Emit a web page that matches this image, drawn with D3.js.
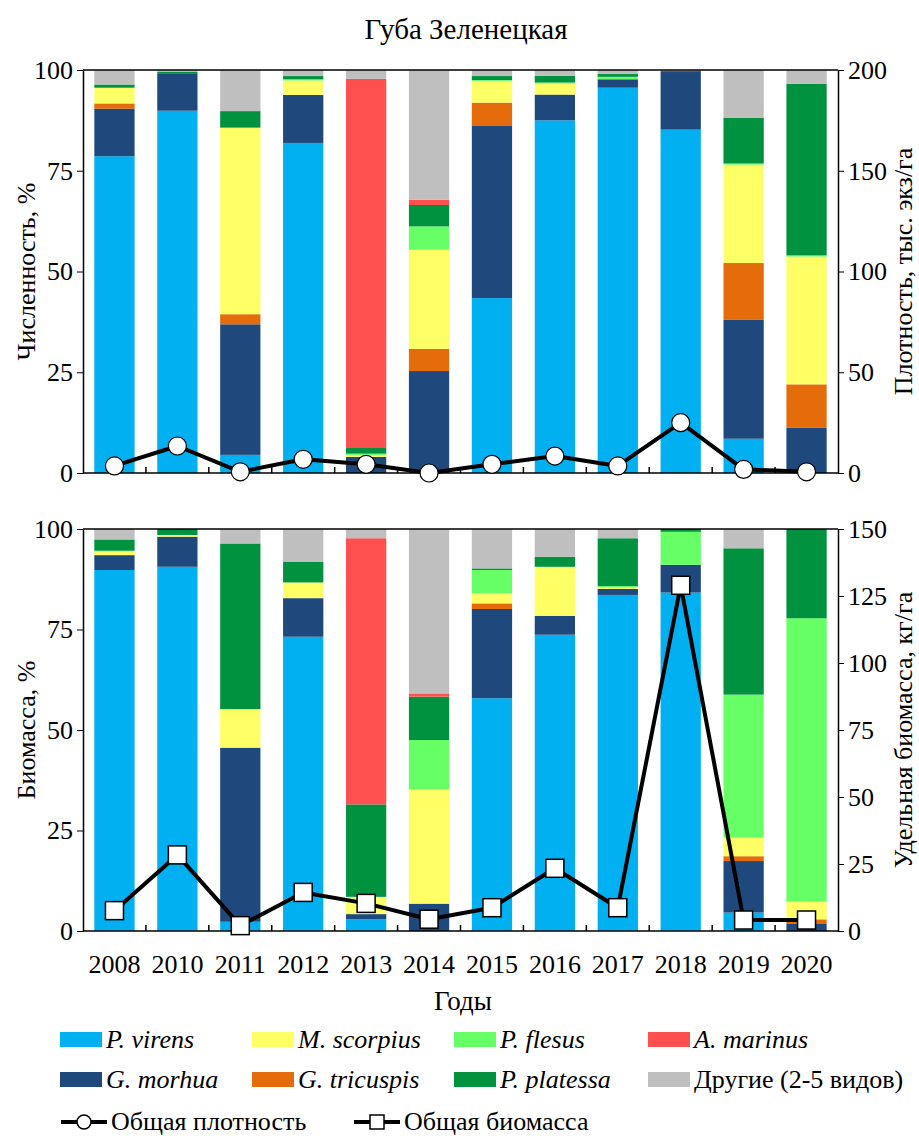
<!DOCTYPE html>
<html>
<head>
<meta charset="utf-8">
<script src="https://cdn.jsdelivr.net/npm/d3@7"></script>
<style>
  html, body { margin: 0; padding: 0; background: #fff; }
  svg { display: block; }
  svg text { font-family: "Liberation Serif", "DejaVu Serif", serif; }
</style>
</head>
<body>
<svg id="chart" width="919" height="1140"></svg>
<script>
// Years of survey
const years = ["2008", "2010", "2011", "2012", "2013", "2014", "2015", "2016", "2017", "2018", "2019", "2020"];

// Species (stack order, bottom to top)
const speciesKeys = ["virens", "morhua", "tricuspis", "scorpius", "flesus", "platessa", "marinus", "others"];
const speciesNames = ["P. virens", "G. morhua", "G. tricuspis", "M. scorpius", "P. flesus", "P. platessa", "A. marinus", "Другие (2-5 видов)"];
const speciesColors = ["#00B0F0", "#1F497D", "#E46C0A", "#FFFF66", "#66FF66", "#00923F", "#FF5050", "#BFBFBF"];

// Abundance share, %
const abVirens    = [78.6, 89.9,  4.5, 81.9,  0.0,  0.0, 43.4, 87.5, 95.6, 85.2,  8.5,  0.0];
const abMorhua    = [11.8,  9.3, 32.4, 11.9,  4.0, 25.3, 42.7,  6.4,  2.1, 14.3, 29.6, 11.2];
const abTricuspis = [ 1.3,  0.0,  2.5,  0.0,  0.0,  5.5,  5.8,  0.0,  0.0,  0.0, 14.0, 10.8];
const abScorpius  = [ 3.9,  0.0, 46.3,  3.6,  0.5, 24.6,  5.4,  2.7,  0.0,  0.0, 24.4, 31.7];
const abFlesus    = [ 0.0,  0.0,  0.0,  0.3,  0.3,  5.8,  0.2,  0.3,  0.6,  0.0,  0.3,  0.3];
const abPlatessa  = [ 0.8,  0.3,  4.1,  0.8,  1.4,  5.3,  1.0,  1.7,  0.7,  0.3, 11.3, 42.6];
const abMarinus   = [ 0.0,  0.0,  0.0,  0.0, 91.6,  1.3,  0.0,  0.0,  0.0,  0.0,  0.0,  0.0];
const abOthers    = [ 3.6,  0.5, 10.2,  1.5,  2.2, 32.2,  1.5,  1.4,  1.0,  0.2, 11.9,  3.4];

// Biomass share, %
const bmVirens    = [89.8, 90.6,  2.3, 73.2,  2.9,  0.0, 57.9, 73.7, 83.6, 84.2,  4.6,  0.0];
const bmMorhua    = [ 3.7,  7.5, 43.3,  9.6,  1.3,  6.8, 22.2,  4.7,  1.5,  6.9, 12.8,  1.9];
const bmTricuspis = [ 0.0,  0.0,  0.0,  0.0,  0.0,  0.0,  1.4,  0.0,  0.0,  0.0,  1.2,  1.0];
const bmScorpius  = [ 0.9,  0.4,  9.6,  3.9,  4.3, 28.4,  2.5, 12.2,  0.4,  0.0,  4.6,  4.4];
const bmFlesus    = [ 0.2,  0.0,  0.0,  0.0,  0.0, 12.3,  5.8,  0.0,  0.3,  8.2, 35.6, 70.5];
const bmPlatessa  = [ 2.8,  1.5, 41.2,  5.2, 23.0, 10.8,  0.4,  2.5, 11.9,  0.7, 36.4, 22.2];
const bmMarinus   = [ 0.0,  0.0,  0.0,  0.0, 66.2,  0.8,  0.0,  0.0,  0.0,  0.0,  0.0,  0.0];
const bmOthers    = [ 2.6,  0.0,  3.6,  8.1,  2.3, 40.9,  9.8,  6.9,  2.3,  0.0,  4.8,  0.0];

// Total density, thousand ind./ha, and total biomass, kg/ha
const totalDensity = [3.5, 13.4, 0.6, 6.8, 4.3, 0.0, 4.3, 8.4, 3.5, 25.0, 1.8, 0.6];
const totalBiomass = [7.6, 28.4, 2.0, 14.4, 10.3, 4.4, 8.7, 23.4, 8.7, 129.0, 4.1, 4.1];

// Tick values
const pctTicks = [0, 25, 50, 75, 100];
const densityTicks = [0, 50, 100, 150, 200];
const biomassTicks = [0, 25, 50, 75, 100, 125, 150];

const abundanceSeries = [abVirens, abMorhua, abTricuspis, abScorpius, abFlesus, abPlatessa, abMarinus, abOthers];
const biomassSeries   = [bmVirens, bmMorhua, bmTricuspis, bmScorpius, bmFlesus, bmPlatessa, bmMarinus, bmOthers];

const FONT = "'Liberation Serif', 'DejaVu Serif', serif";

function toRows(series) {
  return years.map((y, i) => {
    const row = { year: y };
    speciesKeys.forEach((k, j) => { row[k] = series[j][i]; });
    return row;
  });
}

const svg = d3.select("#chart");
const left = 83, right = 838;
const tickFont = 26;
const titleFont = 26;

const x = d3.scaleBand().domain(years).range([left, right]).paddingInner(0.36).paddingOuter(0.18);
const color = d3.scaleOrdinal().domain(speciesKeys).range(speciesColors);

function drawPanel(opts) {
  const { top, bottom, series, lineValues, rightMax, rightTicks, leftTitle, rightTitle, marker, showYears } = opts;
  const g = svg.append("g");
  const y = d3.scaleLinear().domain([0, 100]).range([bottom, top]);
  const y2 = d3.scaleLinear().domain([0, rightMax]).range([bottom, top]);

  const stack = d3.stack().keys(speciesKeys);
  const layers = stack(toRows(series));

  g.append("g").selectAll("g").data(layers).join("g")
    .attr("fill", d => color(d.key))
    .selectAll("rect").data(d => d).join("rect")
    .attr("x", d => x(d.data.year))
    .attr("width", x.bandwidth())
    .attr("y", d => y(d[1]))
    .attr("height", d => Math.max(0, y(d[0]) - y(d[1])));

  // Frame: top border
  g.append("line").attr("x1", left).attr("x2", right).attr("y1", top).attr("y2", top)
    .attr("stroke", "#000").attr("stroke-width", 1.5);

  // Left axis
  const yAxis = d3.axisLeft(y).tickValues(pctTicks).tickSizeOuter(0).tickSizeInner(6).tickPadding(4);
  const ga = g.append("g").attr("transform", `translate(${left},0)`).call(yAxis);
  ga.attr("font-family", FONT);
  ga.select(".domain").attr("stroke-width", 1.5);
  ga.selectAll("text").attr("font-size", tickFont).style("font-family", FONT);

  // Right axis
  const y2Axis = d3.axisRight(y2).tickValues(rightTicks).tickSizeOuter(0).tickSizeInner(6).tickPadding(4);
  const gr = g.append("g").attr("transform", `translate(${right},0)`).call(y2Axis);
  gr.attr("font-family", FONT);
  gr.select(".domain").attr("stroke-width", 1.5);
  gr.selectAll("text").attr("font-size", tickFont).style("font-family", FONT);

  // Bottom axis with inward ticks between bars
  g.append("line").attr("x1", left).attr("x2", right).attr("y1", bottom).attr("y2", bottom)
    .attr("stroke", "#000").attr("stroke-width", 1.5);
  const step = x.step();
  const boundaries = years.slice(1).map(yr => x(yr) - (step - x.bandwidth()) / 2);
  g.append("g").selectAll("line").data(boundaries).join("line")
    .attr("x1", d => d).attr("x2", d => d)
    .attr("y1", bottom).attr("y2", bottom - 6)
    .attr("stroke", "#000").attr("stroke-width", 1.5);

  if (showYears) {
    g.append("g").selectAll("text").data(years).join("text")
      .attr("x", d => x(d) + x.bandwidth() / 2)
      .attr("y", bottom + 42)
      .attr("text-anchor", "middle")
      .attr("font-size", tickFont)
      .style("font-family", FONT)
      .text(d => d);
  }

  // Axis titles
  g.append("text")
    .attr("transform", `translate(26,${(top + bottom) / 2}) rotate(-90)`)
    .attr("text-anchor", "middle").attr("dominant-baseline", "central")
    .attr("font-size", titleFont).style("font-family", FONT).text(leftTitle);
  g.append("text")
    .attr("transform", `translate(903,${(top + bottom) / 2}) rotate(-90)`)
    .attr("text-anchor", "middle").attr("dominant-baseline", "central")
    .attr("font-size", titleFont).style("font-family", FONT).text(rightTitle);

  // Total line with markers
  const cx = (d, i) => x(years[i]) + x.bandwidth() / 2;
  const line = d3.line().x(cx).y(d => y2(d));
  g.append("path").datum(lineValues)
    .attr("d", line).attr("fill", "none").attr("stroke", "#000").attr("stroke-width", 4)
    .attr("stroke-linejoin", "round");
  if (marker === "circle") {
    g.append("g").selectAll("circle").data(lineValues).join("circle")
      .attr("cx", cx).attr("cy", d => y2(d)).attr("r", 9)
      .attr("fill", "#fff").attr("stroke", "#000").attr("stroke-width", 1.2);
  } else {
    g.append("g").selectAll("rect").data(lineValues).join("rect")
      .attr("x", (d, i) => cx(d, i) - 9).attr("y", d => y2(d) - 9)
      .attr("width", 18).attr("height", 18)
      .attr("fill", "#fff").attr("stroke", "#000").attr("stroke-width", 1.5);
  }
}

// Title
svg.append("text").attr("x", 466).attr("y", 39).attr("text-anchor", "middle")
  .attr("font-size", 29).style("font-family", FONT).text("Губа Зеленецкая");

drawPanel({
  top: 70, bottom: 473, series: abundanceSeries, lineValues: totalDensity,
  rightMax: 200, rightTicks: densityTicks,
  leftTitle: "Численность, %", rightTitle: "Плотность, тыс. экз/га",
  marker: "circle", showYears: false
});

drawPanel({
  top: 529, bottom: 931, series: biomassSeries, lineValues: totalBiomass,
  rightMax: 150, rightTicks: biomassTicks,
  leftTitle: "Биомасса, %", rightTitle: "Удельная биомасса, кг/га",
  marker: "square", showYears: true
});

// X axis title
svg.append("text").attr("x", 463).attr("y", 1010).attr("text-anchor", "middle")
  .attr("font-size", 27).style("font-family", FONT).text("Годы");

// Legend
const legendCols = [60, 252, 454, 648];
const legendRows = [1040, 1080];
const legendOrder = ["virens", "scorpius", "flesus", "marinus", "morhua", "tricuspis", "platessa", "others"];
const legend = svg.append("g");
legendOrder.forEach((k, i) => {
  const idx = speciesKeys.indexOf(k);
  const lx = legendCols[i % 4], ly = legendRows[Math.floor(i / 4)];
  legend.append("rect").attr("x", lx).attr("y", ly - 8).attr("width", 42).attr("height", 15)
    .attr("fill", speciesColors[idx]);
  legend.append("text").attr("x", lx + 46).attr("y", ly + 8)
    .attr("font-size", 26)
    .style("font-family", FONT)
    .attr("font-style", k === "others" ? "normal" : "italic")
    .text(speciesNames[idx]);
});

const lineLegend = [
  { label: "Общая плотность", x: 61, marker: "circle" },
  { label: "Общая биомасса", x: 354, marker: "square" }
];
lineLegend.forEach(d => {
  const ly = 1122;
  legend.append("line").attr("x1", d.x).attr("x2", d.x + 46).attr("y1", ly).attr("y2", ly)
    .attr("stroke", "#000").attr("stroke-width", 4);
  if (d.marker === "circle") {
    legend.append("circle").attr("cx", d.x + 23).attr("cy", ly).attr("r", 7)
      .attr("fill", "#fff").attr("stroke", "#000").attr("stroke-width", 1.5);
  } else {
    legend.append("rect").attr("x", d.x + 16).attr("y", ly - 7).attr("width", 14).attr("height", 14)
      .attr("fill", "#fff").attr("stroke", "#000").attr("stroke-width", 1.5);
  }
  legend.append("text").attr("x", d.x + 50).attr("y", ly + 8).attr("font-size", 26)
    .style("font-family", FONT).text(d.label);
});
</script>
</body>
</html>
